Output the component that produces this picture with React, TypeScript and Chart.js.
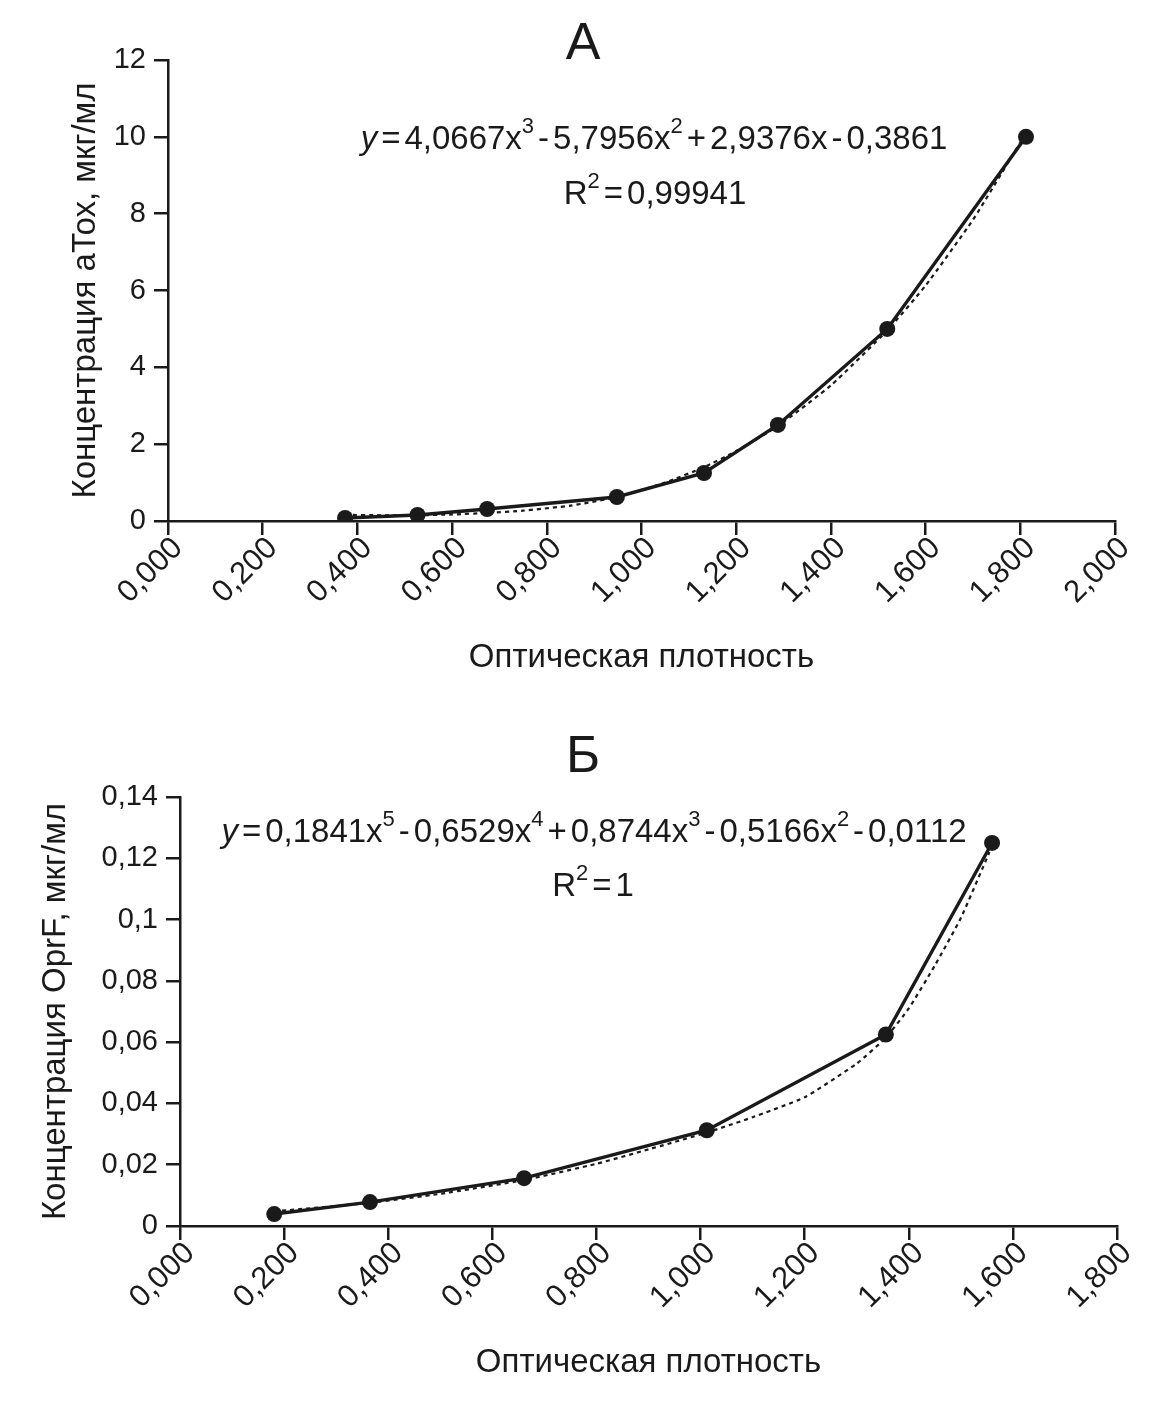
import React, { useEffect, useRef } from "react";
import { Chart, registerables } from "chart.js";

Chart.register(...registerables);

const FONT = "'Liberation Sans', Arial, Helvetica, sans-serif";
const INK = "#1a1a1a";

// ---------- Panel A (aTox) ----------
const aOD = [0.374, 0.527, 0.674, 0.948, 1.132, 1.288, 1.519, 1.812];
const aConc = [0.078, 0.156, 0.3125, 0.625, 1.25, 2.5, 5, 10];
const aTrendOD = [0.374, 0.45, 0.527, 0.6, 0.674, 0.75, 0.85, 0.948, 1.05, 1.132, 1.2, 1.288, 1.4, 1.519, 1.6, 1.7, 1.812];
const aTrendConc = [0.16, 0.15, 0.15, 0.17, 0.21, 0.27, 0.4, 0.62, 1.0, 1.4, 1.82, 2.47, 3.53, 4.96, 6.13, 7.84, 10.1];
const aYMax = 12;
const aYStep = 2;
const aXMax = 2;
const aXStep = 0.2;
const aTitle = "А";
const aYLabel = "Концентрация аТох, мкг/мл";
const aEquation = [
  { t: "y", it: true }, { t: "=", op: true }, { t: "4,0667x" }, { t: "3", sup: true },
  { t: "-", op: true }, { t: "5,7956x" }, { t: "2", sup: true },
  { t: "+", op: true }, { t: "2,9376x" }, { t: "-", op: true }, { t: "0,3861" },
];
const aR2 = [{ t: "R" }, { t: "2", sup: true }, { t: "=", op: true }, { t: "0,99941" }];

// ---------- Panel B (OprF) ----------
const bOD = [0.181, 0.365, 0.661, 1.012, 1.356, 1.56];
const bConc = [0.0039, 0.0078, 0.0156, 0.03125, 0.0625, 0.125];
const bTrendOD = [0.181, 0.3, 0.365, 0.5, 0.661, 0.8, 0.9, 1.012, 1.1, 1.2, 1.3, 1.356, 1.4, 1.45, 1.5, 1.555];
const bTrendConc = [0.0048, 0.0065, 0.0076, 0.0105, 0.015, 0.0203, 0.025, 0.0305, 0.0355, 0.042, 0.053, 0.0615, 0.071, 0.085, 0.1005, 0.122];
const bYMax = 0.14;
const bYStep = 0.02;
const bXMax = 1.8;
const bXStep = 0.2;
const bTitle = "Б";
const bYLabel = "Концентрация OprF, мкг/мл";
const bEquation = [
  { t: "y", it: true }, { t: "=", op: true }, { t: "0,1841x" }, { t: "5", sup: true },
  { t: "-", op: true }, { t: "0,6529x" }, { t: "4", sup: true },
  { t: "+", op: true }, { t: "0,8744x" }, { t: "3", sup: true },
  { t: "-", op: true }, { t: "0,5166x" }, { t: "2", sup: true },
  { t: "-", op: true }, { t: "0,0112" },
];
const bR2 = [{ t: "R" }, { t: "2", sup: true }, { t: "=", op: true }, { t: "1" }];

const xLabel = "Оптическая плотность";

type Seg = { t: string; it?: boolean; sup?: boolean; op?: boolean };

function drawRich(ctx: CanvasRenderingContext2D, segs: Seg[], cx: number, by: number, size: number) {
  const supSize = Math.round(size * 0.66);
  const gap = 4;
  const fontOf = (s: Seg) => `${s.it ? "italic " : ""}${s.sup ? supSize : size}px ${FONT}`;
  let total = 0;
  const widths = segs.map((s) => {
    ctx.font = fontOf(s);
    const w = ctx.measureText(s.t).width + (s.op ? gap * 2 : 0);
    total += w;
    return w;
  });
  let x = cx - total / 2;
  ctx.save();
  ctx.fillStyle = INK;
  ctx.textAlign = "left";
  ctx.textBaseline = "alphabetic";
  segs.forEach((s, i) => {
    ctx.font = fontOf(s);
    ctx.fillText(s.t, x + (s.op ? gap : 0), s.sup ? by - size * 0.5 : by);
    x += widths[i];
  });
  ctx.restore();
}

type Panel = {
  od: number[];
  conc: number[];
  tOd: number[];
  tConc: number[];
  yMax: number;
  yStep: number;
  xMax: number;
  xStep: number;
  title: string;
  yLabel: string;
  eq: Seg[];
  r2: Seg[];
  height: number;
  leftW: number;
  top: number;
  right: number;
  xH: number;
  yTitlePad: number;
  xTitlePad: number;
  titleX: number;
  titleY: number;
  eqX: number;
  eqY: number;
  r2X: number;
  r2Y: number;
};

const fmtY = (v: number) => String(parseFloat(v.toFixed(4))).replace(".", ",");
const fmtX = (v: number) => v.toFixed(3).replace(".", ",");

function buildChart(canvas: HTMLCanvasElement, p: Panel) {
  const textPlugin = {
    id: "panelText",
    afterDraw(chart: any) {
      const ctx = chart.ctx as CanvasRenderingContext2D;
      ctx.save();
      ctx.fillStyle = INK;
      ctx.font = `52px ${FONT}`;
      ctx.textAlign = "center";
      ctx.textBaseline = "alphabetic";
      ctx.fillText(p.title, p.titleX, p.titleY);
      ctx.restore();
      drawRich(ctx, p.eq, p.eqX, p.eqY, 33);
      drawRich(ctx, p.r2, p.r2X, p.r2Y, 33);
    },
  };

  return new Chart(canvas, {
    type: "line",
    data: {
      datasets: [
        {
          data: p.od.map((x, i) => ({ x, y: p.conc[i] })),
          borderColor: INK,
          borderWidth: 3.4,
          pointRadius: 8,
          pointBackgroundColor: INK,
          pointBorderWidth: 0,
          tension: 0,
          fill: false,
        },
        {
          data: p.tOd.map((x, i) => ({ x, y: p.tConc[i] })),
          borderColor: INK,
          borderWidth: 2.2,
          borderDash: [4, 4],
          pointRadius: 0,
          tension: 0.15,
          fill: false,
        },
      ],
    },
    options: {
      responsive: false,
      animation: false,
      events: [],
      layout: { padding: { left: 0, top: p.top, right: p.right, bottom: 0 } },
      plugins: { legend: { display: false }, tooltip: { enabled: false }, title: { display: false } },
      scales: {
        x: {
          type: "linear",
          min: 0,
          max: p.xMax,
          afterFit: (s: any) => {
            s.height = p.xH;
          },
          ticks: {
            stepSize: p.xStep,
            autoSkip: false,
            maxRotation: 45,
            minRotation: 45,
            padding: -5,
            labelOffset: 10,
            color: INK,
            font: { family: FONT, size: 31 },
            callback: (v: any) => fmtX(Number(v)),
          },
          grid: { drawOnChartArea: false, drawTicks: true, tickLength: 14, color: INK, lineWidth: 2.5 },
          border: { display: true, color: INK, width: 2.5 },
          title: {
            display: true,
            text: xLabel,
            color: INK,
            font: { family: FONT, size: 33 },
            padding: { top: 0, bottom: p.xTitlePad },
          },
        },
        y: {
          type: "linear",
          min: 0,
          max: p.yMax,
          afterFit: (s: any) => {
            s.width = p.leftW;
          },
          ticks: {
            stepSize: p.yStep,
            padding: 8,
            color: INK,
            font: { family: FONT, size: 29 },
            callback: (v: any) => fmtY(Number(v)),
          },
          grid: { drawOnChartArea: false, drawTicks: true, tickLength: 14, color: INK, lineWidth: 2.5 },
          border: { display: true, color: INK, width: 2.5 },
          title: {
            display: true,
            text: p.yLabel,
            color: INK,
            font: { family: FONT, size: 33 },
            padding: { top: p.yTitlePad, bottom: 0 },
          },
        },
      },
    },
    plugins: [textPlugin],
  } as any);
}

const panelA: Panel = {
  od: aOD, conc: aConc, tOd: aTrendOD, tConc: aTrendConc,
  yMax: aYMax, yStep: aYStep, xMax: aXMax, xStep: aXStep,
  title: aTitle, yLabel: aYLabel, eq: aEquation, r2: aR2,
  height: 700, leftW: 168, top: 60, right: 47, xH: 179,
  yTitlePad: 66, xTitlePad: 22,
  titleX: 583, titleY: 59, eqX: 654, eqY: 149, r2X: 655, r2Y: 204,
};

const panelB: Panel = {
  od: bOD, conc: bConc, tOd: bTrendOD, tConc: bTrendConc,
  yMax: bYMax, yStep: bYStep, xMax: bXMax, xStep: bXStep,
  title: bTitle, yLabel: bYLabel, eq: bEquation, r2: bR2,
  height: 712, leftW: 180, top: 97, right: 45, xH: 186,
  yTitlePad: 36, xTitlePad: 29,
  titleX: 583, titleY: 72, eqX: 594, eqY: 142, r2X: 593, r2Y: 196,
};

function PanelCanvas({ p }: { p: Panel }) {
  const ref = useRef<HTMLCanvasElement | null>(null);
  useEffect(() => {
    if (!ref.current) return;
    const chart = buildChart(ref.current, p);
    return () => chart.destroy();
  }, [p]);
  return (
    <canvas
      ref={ref}
      width={1162}
      height={p.height}
      style={{ display: "block", width: 1162, height: p.height }}
    />
  );
}

export default function App() {
  return (
    <div style={{ position: "absolute", left: 0, top: 0, width: 1162, height: 1412, background: "#ffffff" }}>
      <PanelCanvas p={panelA} />
      <PanelCanvas p={panelB} />
    </div>
  );
}
